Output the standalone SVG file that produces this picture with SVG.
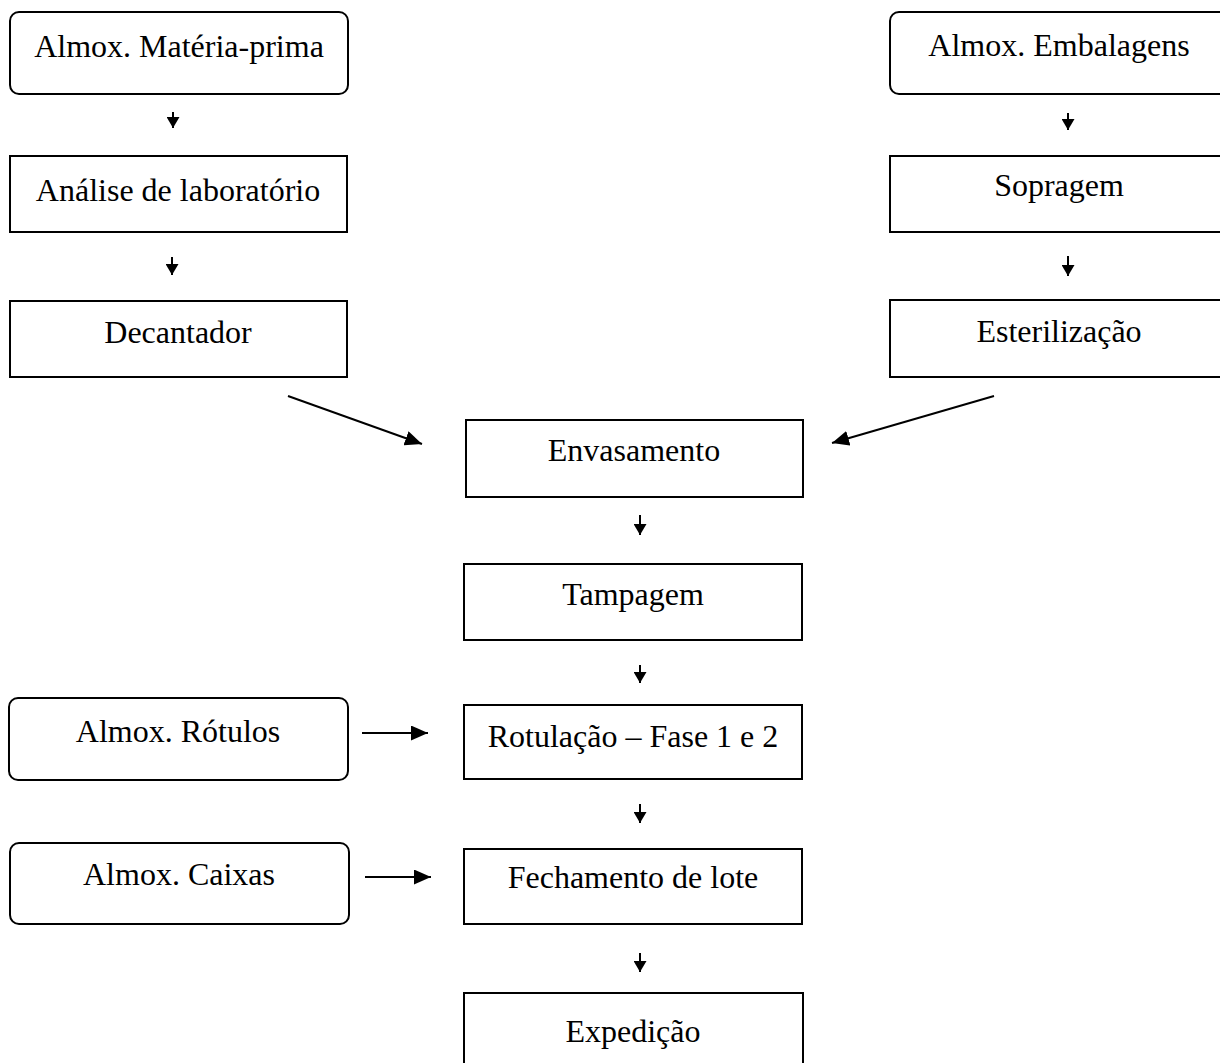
<svg xmlns="http://www.w3.org/2000/svg" width="1220" height="1063" viewBox="0 0 1220 1063">
<style>
.box{fill:#fff;stroke:#000;stroke-width:2}
.t{font-family:"Liberation Serif","Times New Roman",serif;font-size:32px;fill:#000;text-anchor:middle}
.c{stroke:#000;stroke-width:2;fill:none}
.s{marker-end:url(#sm)}
.l{marker-end:url(#lg)}
</style>
<defs>
<marker id="sm" markerUnits="userSpaceOnUse" markerWidth="12" markerHeight="13" refX="11" refY="6.5" orient="auto"><path d="M0,0 L11,6.5 L0,13 z" fill="#000"/></marker>
<marker id="lg" markerUnits="userSpaceOnUse" markerWidth="18" markerHeight="15" refX="17" refY="7.5" orient="auto"><path d="M0,0 L17,7.5 L0,15 z" fill="#000"/></marker>
</defs>
<rect width="1220" height="1063" fill="#fff"/>
<g id="n_mp"><rect class="box" x="10" y="12" width="338" height="82" rx="9"/><text class="t" x="179" y="57">Almox. Matéria-prima</text></g>
<g id="n_lab"><rect class="box" x="10" y="156" width="337" height="76"/><text class="t" x="178" y="201">Análise de laboratório</text></g>
<g id="n_dec"><rect class="box" x="10" y="301" width="337" height="76"/><text class="t" x="178" y="343">Decantador</text></g>
<g id="n_emb"><rect class="box" x="890" y="12" width="338" height="82" rx="9"/><text class="t" x="1059" y="56">Almox. Embalagens</text></g>
<g id="n_sop"><rect class="box" x="890" y="156" width="338" height="76"/><text class="t" x="1059" y="196">Sopragem</text></g>
<g id="n_est"><rect class="box" x="890" y="300" width="338" height="77"/><text class="t" x="1059" y="342">Esterilização</text></g>
<g id="n_env"><rect class="box" x="466" y="420" width="337" height="77"/><text class="t" x="634" y="461">Envasamento</text></g>
<g id="n_tam"><rect class="box" x="464" y="564" width="338" height="76"/><text class="t" x="633" y="605">Tampagem</text></g>
<g id="n_rot"><rect class="box" x="464" y="705" width="338" height="74"/><text class="t" x="633" y="747">Rotulação – Fase 1 e 2</text></g>
<g id="n_fec"><rect class="box" x="464" y="849" width="338" height="75"/><text class="t" x="633" y="888">Fechamento de lote</text></g>
<g id="n_exp"><rect class="box" x="464" y="993" width="339" height="80"/><text class="t" x="633" y="1042">Expedição</text></g>
<g id="n_rtl"><rect class="box" x="9" y="698" width="339" height="82" rx="9"/><text class="t" x="178" y="742">Almox. Rótulos</text></g>
<g id="n_cx"><rect class="box" x="10" y="843" width="339" height="81" rx="9"/><text class="t" x="179" y="885">Almox. Caixas</text></g>
<g id="connectors">
<line class="c s" x1="173" y1="112" x2="173" y2="128"/>
<line class="c s" x1="172" y1="257" x2="172" y2="275"/>
<line class="c s" x1="1068" y1="113" x2="1068" y2="130"/>
<line class="c s" x1="1068" y1="256" x2="1068" y2="276"/>
<line class="c s" x1="640" y1="515" x2="640" y2="535"/>
<line class="c s" x1="640" y1="665" x2="640" y2="683"/>
<line class="c s" x1="640" y1="804" x2="640" y2="823"/>
<line class="c s" x1="640" y1="953" x2="640" y2="972"/>
<line class="c l" x1="288" y1="396" x2="422" y2="444"/>
<line class="c l" x1="994" y1="396" x2="832" y2="443"/>
<line class="c l" x1="362" y1="733" x2="428" y2="733"/>
<line class="c l" x1="365" y1="877" x2="431" y2="877"/>
</g>
</svg>
